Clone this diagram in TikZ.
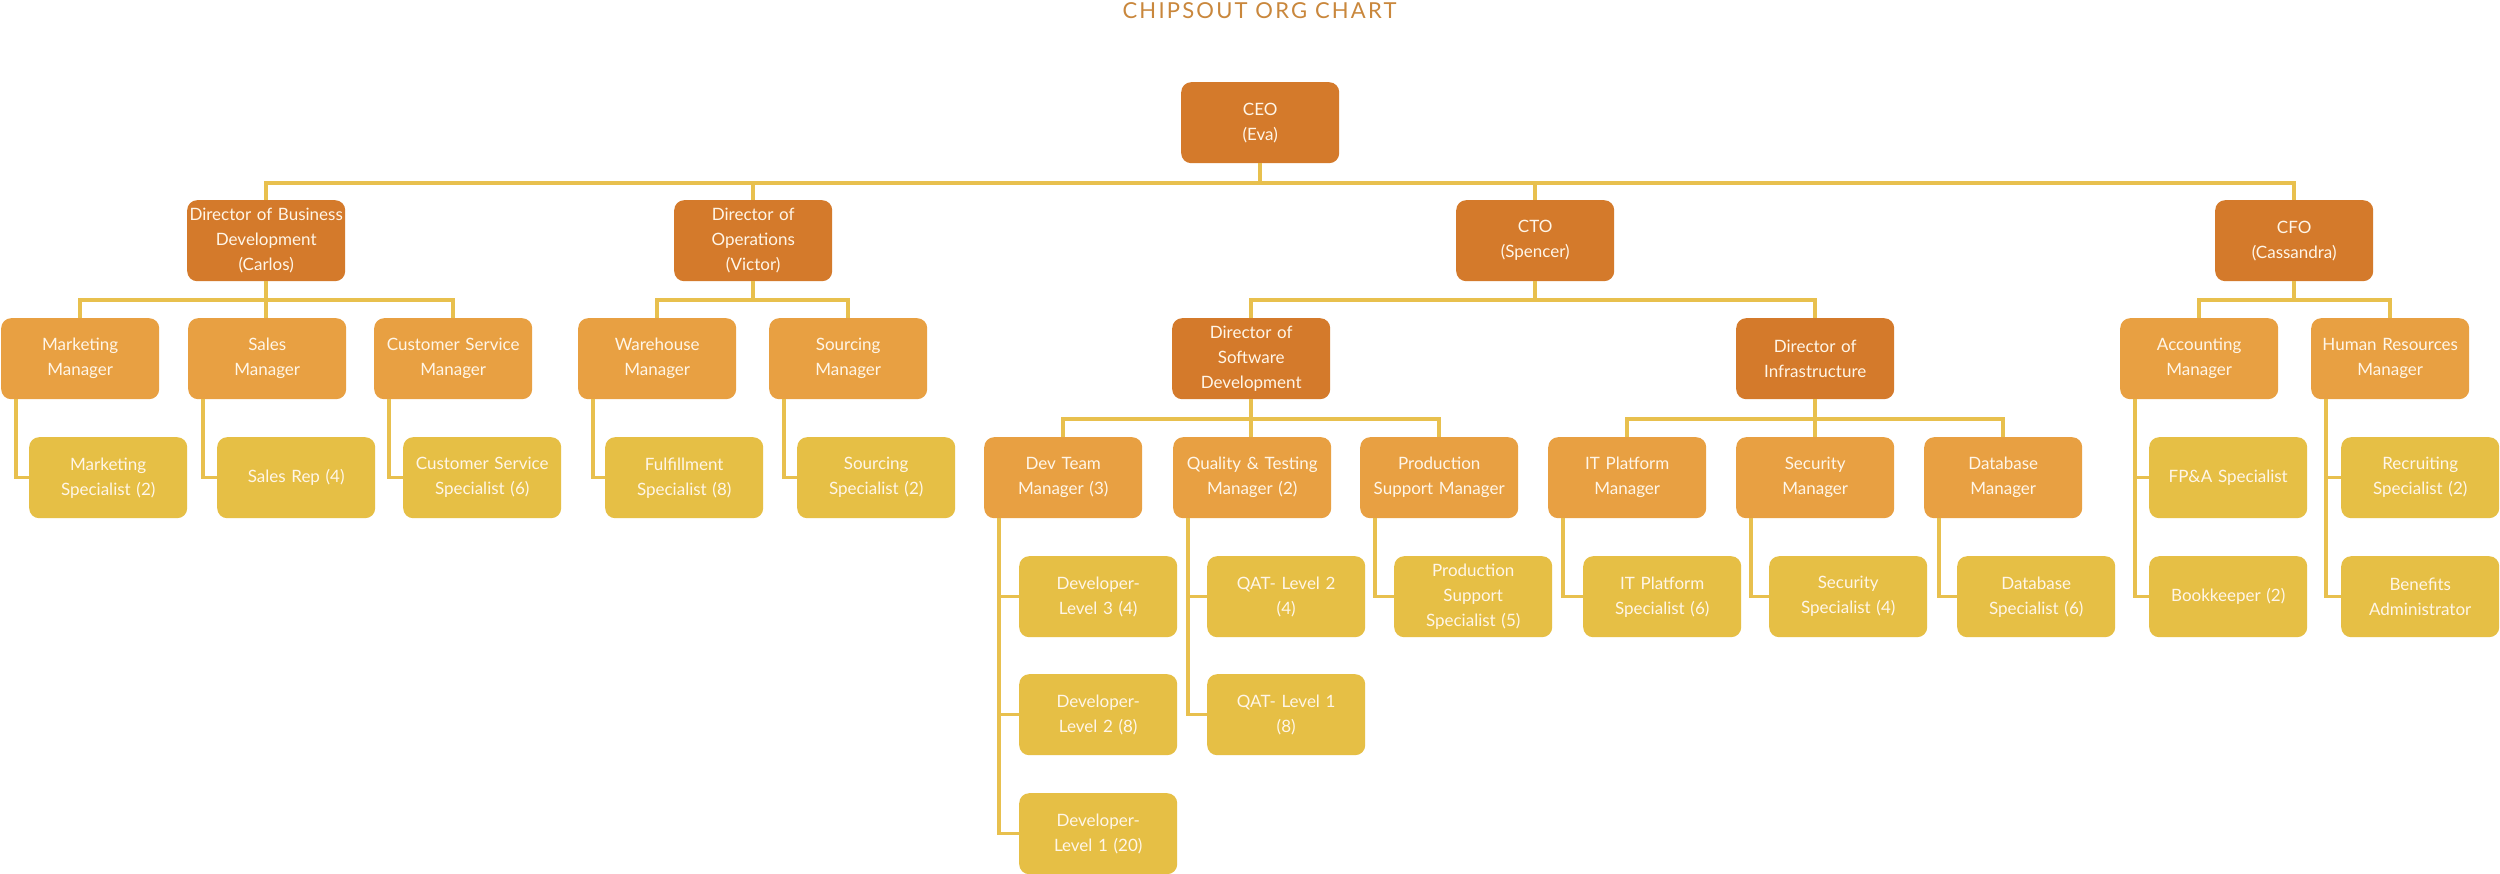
\documentclass[tikz,border=0pt]{standalone}
\usepackage{fontspec}
\setmainfont{Lato}
\definecolor{darkc}{HTML}{D47A2B}
\definecolor{midc}{HTML}{E8A042}
\definecolor{yelc}{HTML}{E6BF45}
\definecolor{linec}{HTML}{E8C04E}
\definecolor{titlec}{HTML}{C9873C}
\definecolor{txtc}{HTML}{FFF6E8}
\tikzset{
  box/.style={rounded corners=10pt, minimum width=158pt, minimum height=81pt,
    text width=154pt, align=center, inner sep=0pt, anchor=north west,
    text=txtc, font=\fontsize{17}{25}\selectfont},
  lvla/.style={box, fill=darkc},
  lvlb/.style={box, fill=midc},
  lvlc/.style={box, fill=yelc},
  conn/.style={draw=linec, line width=3.5pt},
}
\begin{document}
\begin{tikzpicture}[x=1pt,y=-1pt]
\useasboundingbox[fill=white] (0,0) rectangle (2500,874);
\node[font=\fontsize{22}{26}\selectfont\addfontfeatures{LetterSpace=10}, text=titlec, inner sep=0pt] (title) at (1259.5,11) {CHIPSOUT ORG CHART};
% nodes
\node[lvla] (ceo) at (1181,82) {CEO\\(Eva)};
\node[lvla] (dbd) at (187,200) {Director of Business\\Development\\(Carlos)};
\node[lvla] (dops) at (674,200) {Director of\\Operations\\(Victor)};
\node[lvla] (cto) at (1456,200) {CTO\\(Spencer)};
\node[lvla] (cfo) at (2215,200) {CFO\\(Cassandra)};
%
\node[lvlb] (mm) at (1,318) {Marketing\\Manager};
\node[lvlb] (sm) at (188,318) {Sales\\Manager};
\node[lvlb] (csm) at (374,318) {Customer Service\\Manager};
\node[lvlb] (wm) at (578,318) {Warehouse\\Manager};
\node[lvlb] (som) at (769,318) {Sourcing\\Manager};
\node[lvla] (dsd) at (1172,318) {Director of\\Software\\Development};
\node[lvla] (dinf) at (1736,318) {Director of\\Infrastructure};
\node[lvlb] (am) at (2120,318) {Accounting\\Manager};
\node[lvlb] (hrm) at (2311,318) {Human Resources\\Manager};
%
\node[lvlc] (ms) at (29,437) {Marketing\\Specialist (2)};
\node[lvlc] (sr) at (217,437) {Sales Rep (4)};
\node[lvlc] (css) at (403,437) {Customer Service\\Specialist (6)};
\node[lvlc] (fs) at (605,437) {Fulfillment\\Specialist (8)};
\node[lvlc] (sos) at (797,437) {Sourcing\\Specialist (2)};
\node[lvlb] (dtm) at (984,437) {Dev Team\\Manager (3)};
\node[lvlb] (qtm) at (1173,437) {Quality \& Testing\\Manager (2)};
\node[lvlb] (psm) at (1360,437) {Production\\Support Manager};
\node[lvlb] (ipm) at (1548,437) {IT Platform\\Manager};
\node[lvlb] (secm) at (1736,437) {Security\\Manager};
\node[lvlb] (dbm) at (1924,437) {Database\\Manager};
\node[lvlc] (fpa) at (2149,437) {FP\&A Specialist};
\node[lvlc] (rs) at (2341,437) {Recruiting\\Specialist (2)};
%
\node[lvlc] (d3) at (1019,556) {Developer-\\Level 3 (4)};
\node[lvlc] (q2) at (1207,556) {QAT- Level 2\\(4)};
\node[lvlc] (pss) at (1394,556) {Production\\Support\\Specialist (5)};
\node[lvlc] (ips) at (1583,556) {IT Platform\\Specialist (6)};
\node[lvlc] (ss) at (1769,556) {Security\\Specialist (4)};
\node[lvlc] (dbs) at (1957,556) {Database\\Specialist (6)};
\node[lvlc] (bk) at (2149,556) {Bookkeeper (2)};
\node[lvlc] (ba) at (2341,556) {Benefits\\Administrator};
%
\node[lvlc] (d2) at (1019,674) {Developer-\\Level 2 (8)};
\node[lvlc] (q1) at (1207,674) {QAT- Level 1\\(8)};
\node[lvlc] (d1) at (1019,793) {Developer-\\Level 1 (20)};
% buses
\draw[conn] (ceo.south) -- ++(0,20);
\draw[conn] (dbd.north) -- ++(0,-17) -| (cfo.north);
\draw[conn] (dops.north) -- ++(0,-17);
\draw[conn] (cto.north) -- ++(0,-17);
\draw[conn] (dbd.south) -- (dbd.south |- sm.north);
\draw[conn] (mm.north) -- ++(0,-18) -| (csm.north);
\draw[conn] (dops.south) -- ++(0,19);
\draw[conn] (wm.north) -- ++(0,-18) -| (som.north);
\draw[conn] (cto.south) -- ++(0,19);
\draw[conn] (dsd.north) -- ++(0,-18) -| (dinf.north);
\draw[conn] (cfo.south) -- ++(0,19);
\draw[conn] (am.north) -- ++(0,-18) -| (hrm.north);
\draw[conn] (dsd.south) -- (dsd.south |- qtm.north);
\draw[conn] (dtm.north) -- ++(0,-18) -| (psm.north);
\draw[conn] (dinf.south) -- (dinf.south |- secm.north);
\draw[conn] (ipm.north) -- ++(0,-18) -| (dbm.north);
% side connectors
\foreach \p/\c in {mm/ms, sm/sr, csm/css, wm/fs, som/sos, am/fpa, am/bk, hrm/rs, hrm/ba,
  dtm/d3, dtm/d2, dtm/d1, qtm/q2, qtm/q1, psm/pss, ipm/ips, secm/ss, dbm/dbs}
  \draw[conn] ([xshift=15pt]\p.south west) |- (\c.west);
\end{tikzpicture}
\end{document}
